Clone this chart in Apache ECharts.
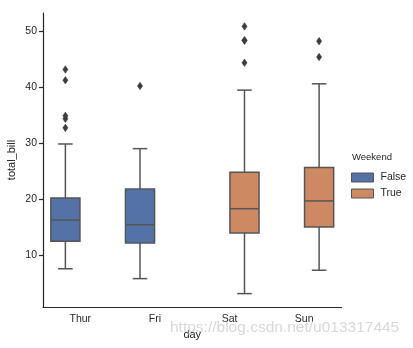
<!DOCTYPE html>
<html>
<head>
<meta charset="utf-8">
<script src="https://cdn.jsdelivr.net/npm/echarts@6/dist/echarts.min.js"></script>
<style>html,body{margin:0;padding:0;background:#fff}#c{width:413px;height:348px}</style>
</head>
<body>
<div id="c"></div>
<script>
const days = ['Thur', 'Fri', 'Sat', 'Sun'];
const weekend = [false, false, true, true];
const whiskerLow = [7.51, 5.75, 3.07, 7.25];
const q1 = [12.44, 12.10, 13.91, 14.99];
const median = [16.20, 15.38, 18.24, 19.63];
const q3 = [20.16, 21.75, 24.74, 25.60];
const whiskerHigh = [29.80, 28.97, 39.42, 40.55];
const outliers = [[32.68, 34.30, 34.83, 41.19, 43.11], [40.17], [44.30, 48.27, 48.33, 50.81], [45.35, 48.17]];
const yTicks = [10, 20, 30, 40, 50];
const hueNames = ['False', 'True'];

const colors = { 'False': '#5572a6', 'True': '#cd8962' };
const lineColor = '#555555';
const font = 'Liberation Sans, Arial, sans-serif';

function boxData(flag) {
  const out = [];
  days.forEach((d, i) => {
    if (weekend[i] === flag) out.push([i, whiskerLow[i], q1[i], median[i], q3[i], whiskerHigh[i]]);
  });
  return out;
}
function outlierData(flag) {
  const out = [];
  days.forEach((d, i) => {
    if (weekend[i] === flag) outliers[i].forEach(v => out.push([i, v]));
  });
  return out;
}

function makeRender(offset) {
  return function (params, api) {
    const i = api.value(0);
    const band = api.size([1, 0])[0];
    const cx = api.coord([i, 0])[0] + offset * band;
    const w = band * 0.39;
    const y = k => api.coord([i, api.value(k)])[1];
    const yLo = y(1), yQ1 = y(2), yMed = y(3), yQ3 = y(4), yHi = y(5);
    const ls = { stroke: lineColor, lineWidth: 1.5 };
    const cap = w / 4;
    return {
      type: 'group',
      children: [
        { type: 'line', shape: { x1: cx, y1: yQ1, x2: cx, y2: yLo }, style: ls },
        { type: 'line', shape: { x1: cx, y1: yQ3, x2: cx, y2: yHi }, style: ls },
        { type: 'line', shape: { x1: cx - cap, y1: yLo, x2: cx + cap, y2: yLo }, style: ls },
        { type: 'line', shape: { x1: cx - cap, y1: yHi, x2: cx + cap, y2: yHi }, style: ls },
        { type: 'rect', shape: { x: cx - w / 2, y: yQ3, width: w, height: yQ1 - yQ3 },
          style: { fill: api.visual('color'), stroke: lineColor, lineWidth: 1.5 } },
        { type: 'line', shape: { x1: cx - w / 2, y1: yMed, x2: cx + w / 2, y2: yMed }, style: ls }
      ]
    };
  };
}
function makeOutlierRender(offset) {
  return function (params, api) {
    const i = api.value(0);
    const band = api.size([1, 0])[0];
    const cx = api.coord([i, 0])[0] + offset * band;
    const cy = api.coord([i, api.value(1)])[1];
    return {
      type: 'polygon',
      shape: { points: [[cx, cy - 3.8], [cx + 2.6, cy], [cx, cy + 3.8], [cx - 2.6, cy]] },
      style: { fill: '#3d3d3d', stroke: '#3d3d3d', lineWidth: 0.5 }
    };
  };
}

const series = [];
hueNames.forEach((name, h) => {
  const flag = h === 1;
  const off = flag ? 0.2 : -0.2;
  series.push({
    name: name, type: 'custom', renderItem: makeRender(off),
    itemStyle: { color: colors[name], borderColor: lineColor, borderWidth: 1.2 },
    encode: { x: 0, y: [1, 2, 3, 4, 5] },
    data: boxData(flag), z: 2
  });
  series.push({
    name: name, type: 'custom', renderItem: makeOutlierRender(off),
    itemStyle: { color: colors[name] },
    encode: { x: 0, y: 1 },
    data: outlierData(flag), z: 3
  });
});

const chart = echarts.init(document.getElementById('c'), null, { renderer: 'canvas' });
chart.setOption({
  animation: false,
  backgroundColor: '#ffffff',
  textStyle: { fontFamily: font },
  grid: { left: 43, right: 71.5, top: 13, bottom: 41, containLabel: false, outerBoundsMode: 'none' },
  xAxis: {
    type: 'category', data: days, boundaryGap: true,
    name: 'day', nameLocation: 'middle', nameGap: 22,
    nameTextStyle: { color: '#262626', fontSize: 11, fontFamily: font },
    axisLine: { lineStyle: { color: '#262626', width: 1.2 } },
    axisTick: { alignWithLabel: true, length: 4, lineStyle: { color: '#262626', width: 1.2 } },
    axisLabel: { color: '#262626', fontSize: 10.5, margin: 7, fontFamily: font },
    splitLine: { show: false }
  },
  yAxis: {
    type: 'value', min: 0.68, max: 53.2,
    name: 'total_bill', nameLocation: 'middle', nameGap: 26, nameRotate: 90,
    nameMoveOverlap: false,
    nameTextStyle: { color: '#262626', fontSize: 11, fontFamily: font },
    axisLine: { show: true, lineStyle: { color: '#262626', width: 1.2 } },
    axisTick: { show: true, length: 4, customValues: yTicks, lineStyle: { color: '#262626', width: 1.2 } },
    axisLabel: { color: '#262626', fontSize: 10.5, margin: 6, customValues: yTicks, fontFamily: font },
    splitLine: { show: false }
  },
  legend: {
    data: hueNames.map(n => ({ name: n, icon: 'rect' })),
    orient: 'vertical', left: 346, top: 167,
    itemWidth: 22, itemHeight: 9, itemGap: 5,
    itemStyle: { borderColor: lineColor, borderWidth: 1 },
    textStyle: { color: '#262626', fontSize: 10.5, fontFamily: font, padding: [0, 0, 0, 2] },
    selectedMode: false
  },
  graphic: [
    { type: 'text', left: 352, top: 152,
      style: { text: 'Weekend', fill: '#262626', fontSize: 9.5, fontFamily: font } },
    { type: 'text', left: 170, top: 320,
      style: { text: 'https://blog.csdn.net/u013317445', fill: 'rgba(200,200,200,0.7)', fontSize: 15.5, fontFamily: font }, z: 100 }
  ],
  series: series
});
</script>
</body>
</html>
